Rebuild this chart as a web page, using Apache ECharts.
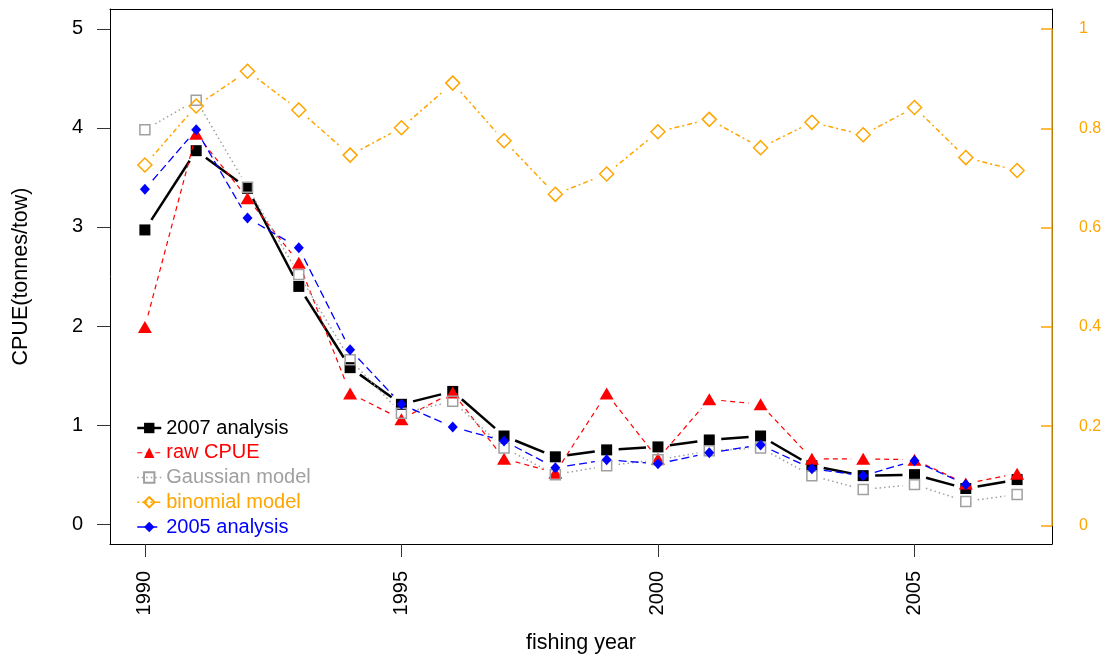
<!DOCTYPE html>
<html><head><meta charset="utf-8">
<script src="https://cdn.jsdelivr.net/npm/echarts@6/dist/echarts.min.js"></script>
<style>html,body{margin:0;padding:0;background:#fff}#c{width:1105px;height:659px}</style>
</head><body><div id="c"></div>
<script>
const years = [1990,1991,1992,1993,1994,1995,1996,1997,1998,1999,2000,2001,2002,2003,2004,2005,2006,2007];
const analysis2007 = [2.97,3.77,3.39,2.40,1.58,1.21,1.34,0.89,0.68,0.75,0.78,0.85,0.89,0.59,0.49,0.50,0.36,0.45];
const rawCPUE = [1.99,3.94,3.29,2.64,1.32,1.06,1.33,0.66,0.52,1.32,0.66,1.26,1.21,0.66,0.66,0.65,0.41,0.51];
const gaussian = [3.98,4.28,3.40,2.52,1.66,1.12,1.24,0.77,0.50,0.59,0.65,0.74,0.77,0.49,0.35,0.40,0.23,0.30];
const binomial = [0.726,0.845,0.915,0.837,0.746,0.801,0.891,0.775,0.667,0.708,0.793,0.818,0.761,0.812,0.787,0.842,0.741,0.715];
const analysis2005 = [3.38,3.98,3.09,2.79,1.76,1.21,0.98,0.84,0.57,0.65,0.61,0.72,0.80,0.56,0.49,0.64,0.40,null];
const leftTicks = [0,1,2,3,4,5];
const rightTicks = [0,0.2,0.4,0.6,0.8,1];
const xTicks = [1990,1995,2000,2005];

const FONT = 'Liberation Sans';
const ORANGE = '#FFA500';
const GRAY = '#A0A0A0';
const pairs = arr => years.map((y,i)=>[y, arr[i]]);
const XMIN = 1989.32, XMAX = 2007.68;
const GAP = 12;

const styles = {
  '2007 analysis': {color:'#000', width:2.5, type:'solid'},
  'raw CPUE': {color:'#FF0000', width:1.2, type:[5,4]},
  'Gaussian model': {color:GRAY, width:1.5, type:[1.5,3]},
  'binomial model': {color:ORANGE, width:1.5, type:[2,3,5,3]},
  '2005 analysis': {color:'#0000FF', width:1.3, type:[8,4]}
};

// connecting segments drawn like R's type="b": lines stop short of each point
function gapLines(name, arr, xi, yi, z){
  const st = styles[name];
  const segs = [];
  for (let i=0;i<years.length-1;i++){
    if (arr[i]!=null && arr[i+1]!=null) segs.push([years[i],arr[i],years[i+1],arr[i+1]]);
  }
  return {
    type:'custom', name:name+' line', xAxisIndex:xi, yAxisIndex:yi, data:segs, silent:true, z:z,
    encode:{x:[0,2], y:[1,3]}, clip:false,
    renderItem:(params, api)=>{
      const p1 = api.coord([api.value(0), api.value(1)]);
      const p2 = api.coord([api.value(2), api.value(3)]);
      const dx = p2[0]-p1[0], dy = p2[1]-p1[1], L = Math.hypot(dx,dy);
      if (L <= 2*GAP) return null;
      const ux = dx/L, uy = dy/L;
      return {type:'line',
        shape:{x1:p1[0]+ux*GAP, y1:p1[1]+uy*GAP, x2:p2[0]-ux*GAP, y2:p2[1]-uy*GAP},
        style:{stroke:st.color, lineWidth:st.width, lineDash: st.type==='solid'?null:st.type, fill:null}};
    }
  };
}

function pointSeries(name, arr, xi, yi, symbol, size, itemStyle, z){
  return {name, type:'line', xAxisIndex:xi, yAxisIndex:yi, data:pairs(arr), clip:false,
    symbol, symbolSize:size, itemStyle, z,
    lineStyle:{opacity:0, width:styles[name].width, color:styles[name].color}};
}

function legendItem(name, textColor){
  const st = styles[name];
  return {name, textStyle:{color:textColor},
    lineStyle:{color:st.color, width:st.width, type:st.type, opacity:1}};
}

const chart = echarts.init(document.getElementById('c'), null, {renderer:'canvas'});
chart.setOption({
  animation:false,
  backgroundColor:'#fff',
  textStyle:{fontFamily:FONT},
  grid:[
    {left:110, right:53, top:9, bottom:113.5, containLabel:false},
    {left:110, right:53, top:29, bottom:133.5, containLabel:false}
  ],
  legend:{
    orient:'vertical', left:131, top:413, itemWidth:24, itemHeight:13, itemGap:4.75,
    textStyle:{fontSize:20, fontFamily:FONT, lineHeight:20},
    data:[
      legendItem('2007 analysis', '#000'),
      legendItem('raw CPUE', '#FF0000'),
      legendItem('Gaussian model', GRAY),
      legendItem('binomial model', ORANGE),
      legendItem('2005 analysis', '#0000FF')
    ]
  },
  xAxis:[
    {type:'value', gridIndex:0, position:'bottom', min:XMIN, max:XMAX,
     name:'fishing year', nameLocation:'middle', nameGap:88,
     nameTextStyle:{fontSize:21.5, color:'#000', fontFamily:FONT},
     axisLine:{show:true, onZero:false, lineStyle:{color:'#000', width:1}},
     axisTick:{show:true, inside:false, length:13, customValues:xTicks, lineStyle:{color:'#333'}},
     axisLabel:{show:true, rotate:90, margin:27, fontSize:20, color:'#000', fontFamily:FONT, customValues:xTicks,
       formatter:v=>String(Math.round(v))},
     splitLine:{show:false}},
    {type:'value', gridIndex:0, position:'top', min:XMIN, max:XMAX,
     axisLine:{show:true, onZero:false, lineStyle:{color:'#000', width:1}},
     axisTick:{show:false}, axisLabel:{show:false}, splitLine:{show:false}},
    {type:'value', gridIndex:1, min:XMIN, max:XMAX, show:false, splitLine:{show:false}}
  ],
  yAxis:[
    {type:'value', gridIndex:0, position:'left', min:-0.2, max:5.2,
     name:'CPUE(tonnes/tow)', nameLocation:'middle', nameGap:78,
     nameTextStyle:{fontSize:21.5, color:'#000', fontFamily:FONT},
     axisLine:{show:true, onZero:false, lineStyle:{color:'#000', width:1}},
     axisTick:{show:true, inside:false, length:13, customValues:leftTicks, lineStyle:{color:'#333'}},
     axisLabel:{show:true, margin:27, fontSize:20, color:'#000', fontFamily:FONT, customValues:leftTicks,
       formatter:v=>String(Math.round(v))},
     splitLine:{show:false}},
    {type:'value', gridIndex:0, position:'right', min:-0.2, max:5.2,
     axisLine:{show:true, onZero:false, lineStyle:{color:'#000', width:1}},
     axisTick:{show:false}, axisLabel:{show:false}, splitLine:{show:false}},
    {type:'value', gridIndex:1, position:'right', min:0, max:1, z:5,
     axisLine:{show:true, onZero:false, lineStyle:{color:ORANGE, width:1.5}},
     axisTick:{show:true, inside:true, length:11, customValues:rightTicks, lineStyle:{color:ORANGE, width:1.5}},
     axisLabel:{show:true, margin:27, fontSize:16, color:ORANGE, fontFamily:FONT, customValues:rightTicks,
       formatter:v=>String(Math.round(v*10)/10)},
     splitLine:{show:false}}
  ],
  series:[
    gapLines('2007 analysis', analysis2007, 0, 0, 2),
    pointSeries('2007 analysis', analysis2007, 0, 0, 'rect', 11, {color:'#000'}, 2),
    gapLines('raw CPUE', rawCPUE, 0, 0, 3),
    pointSeries('raw CPUE', rawCPUE, 0, 0, 'triangle', [14,12], {color:'#FF0000'}, 3),
    gapLines('Gaussian model', gaussian, 0, 0, 4),
    pointSeries('Gaussian model', gaussian, 0, 0, 'rect', 10,
      {color:'rgba(255,255,255,0)', borderColor:GRAY, borderWidth:1.5}, 4),
    gapLines('binomial model', binomial, 2, 2, 5),
    pointSeries('binomial model', binomial, 2, 2, 'diamond', [14,14],
      {color:'rgba(255,255,255,0)', borderColor:ORANGE, borderWidth:1.5}, 5),
    gapLines('2005 analysis', analysis2005, 0, 0, 6),
    pointSeries('2005 analysis', analysis2005, 0, 0, 'diamond', [10,11], {color:'#0000FF'}, 6)
  ]
});
</script></body></html>
